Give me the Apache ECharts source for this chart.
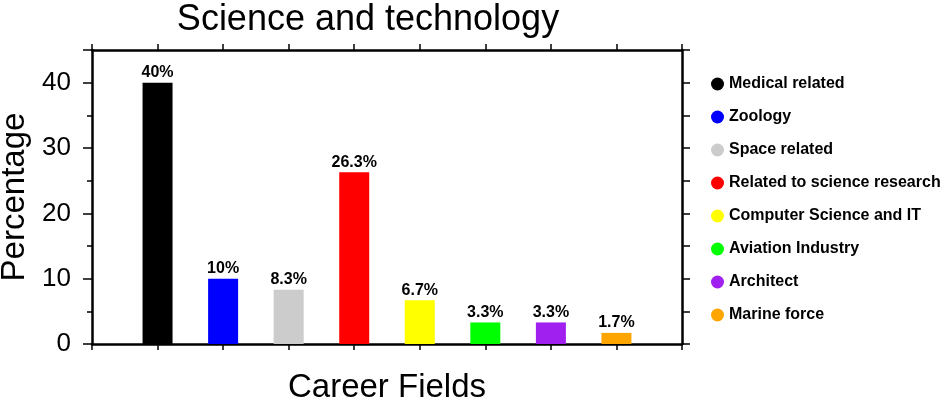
<!DOCTYPE html>
<html>
<head>
<meta charset="utf-8">
<script src="https://cdn.jsdelivr.net/npm/echarts@6/dist/echarts.min.js"></script>
<style>
  html, body { margin: 0; padding: 0; background: #fff; }
  #chart { width: 948px; height: 399px; }
</style>
</head>
<body>
<div id="chart"></div>
<script>
// career fields, in bar order
const fields = ['Medical related', 'Zoology', 'Space related', 'Related to science research',
  'Computer Science and IT', 'Aviation Industry', 'Architect', 'Marine force']
// percentage of answers
const values = [40, 10, 8.3, 26.3, 6.7, 3.3, 3.3, 1.7]
const labels = ['40%', '10%', '8.3%', '26.3%', '6.7%', '3.3%', '3.3%', '1.7%']
const colors = ['#000000', '#0000ff', '#cccccc', '#ff0000', '#ffff00', '#00ff00', '#a020f0', '#ffa500']

const font = 'Liberation Sans, Arial, sans-serif'

const chart = echarts.init(document.getElementById('chart'), null, { renderer: 'canvas' })

const series = fields.map((f, i) => ({
  name: f,
  type: 'bar',
  stack: 'all',
  barWidth: 30,
  itemStyle: { color: colors[i] },
  label: {
    show: true,
    position: 'top',
    distance: 2,
    formatter: labels[i],
    color: '#000',
    fontFamily: font,
    fontWeight: 'bold',
    fontSize: 16,
  },
  // x position = bar index + 1 on a 0..9 value axis
  data: [[i + 1, values[i]]],
}))

// plain frame axis (top / right), no labels
const frame = (extra) => Object.assign({
  type: 'value',
  axisLine: { show: true, onZero: false, lineStyle: { color: '#000', width: 2.5 } },
  axisLabel: { show: false },
  splitLine: { show: false },
}, extra)

const option = {
  animation: false,
  backgroundColor: '#fff',
  title: {
    text: 'Science and technology',
    left: 363,
    textAlign: 'center',
    top: -3,
    textStyle: { fontFamily: font, fontSize: 36, fontWeight: 'normal', color: '#000' },
  },
  legend: {
    orient: 'vertical',
    left: 711,
    top: 76,
    padding: 0,
    itemWidth: 13,
    itemHeight: 13,
    itemGap: 17,
    icon: 'circle',
    data: fields,
    textStyle: { fontFamily: font, fontSize: 16, fontWeight: 'bold', color: '#000' },
  },
  grid: { left: 92, right: 266, top: 50, bottom: 55, outerBoundsMode: 'none', containLabel: false },
  xAxis: [{
    type: 'value',
    min: 0,
    max: 9,
    interval: 1,
    name: 'Career Fields',
    nameLocation: 'middle',
    nameGap: 27,
    nameTextStyle: { fontFamily: font, fontSize: 33, color: '#000' },
    axisLine: { show: true, onZero: false, lineStyle: { color: '#000', width: 2.5 } },
    axisTick: { show: true, length: 6, lineStyle: { color: '#000', width: 1.5 } },
    axisLabel: { show: false },
    splitLine: { show: false },
  }, frame({
    position: 'top',
    min: 0,
    max: 9,
    interval: 1,
    axisTick: { show: true, length: 6, lineStyle: { color: '#000', width: 1.5 } },
  })],
  yAxis: [{
    type: 'value',
    min: 0,
    max: 45,
    interval: 10,
    name: 'Percentage',
    nameLocation: 'middle',
    nameGap: 55,
    nameTextStyle: { fontFamily: font, fontSize: 33, color: '#000' },
    axisLine: { show: true, onZero: false, lineStyle: { color: '#000', width: 2.5 } },
    axisTick: { show: true, length: 9, lineStyle: { color: '#000', width: 1.5 } },
    minorTick: { show: true, splitNumber: 2, length: 5, lineStyle: { color: '#000', width: 1.5 } },
    axisLabel: { margin: 21, showMaxLabel: false, fontFamily: font, fontSize: 26, color: '#000' },
    splitLine: { show: false },
  }, frame({
    position: 'right',
    min: 0,
    max: 45,
    interval: 5,
    axisTick: { show: true, length: 8, lineStyle: { color: '#000', width: 1.5 } },
  })],
  series,
}

chart.setOption(option)
</script>
</body>
</html>
